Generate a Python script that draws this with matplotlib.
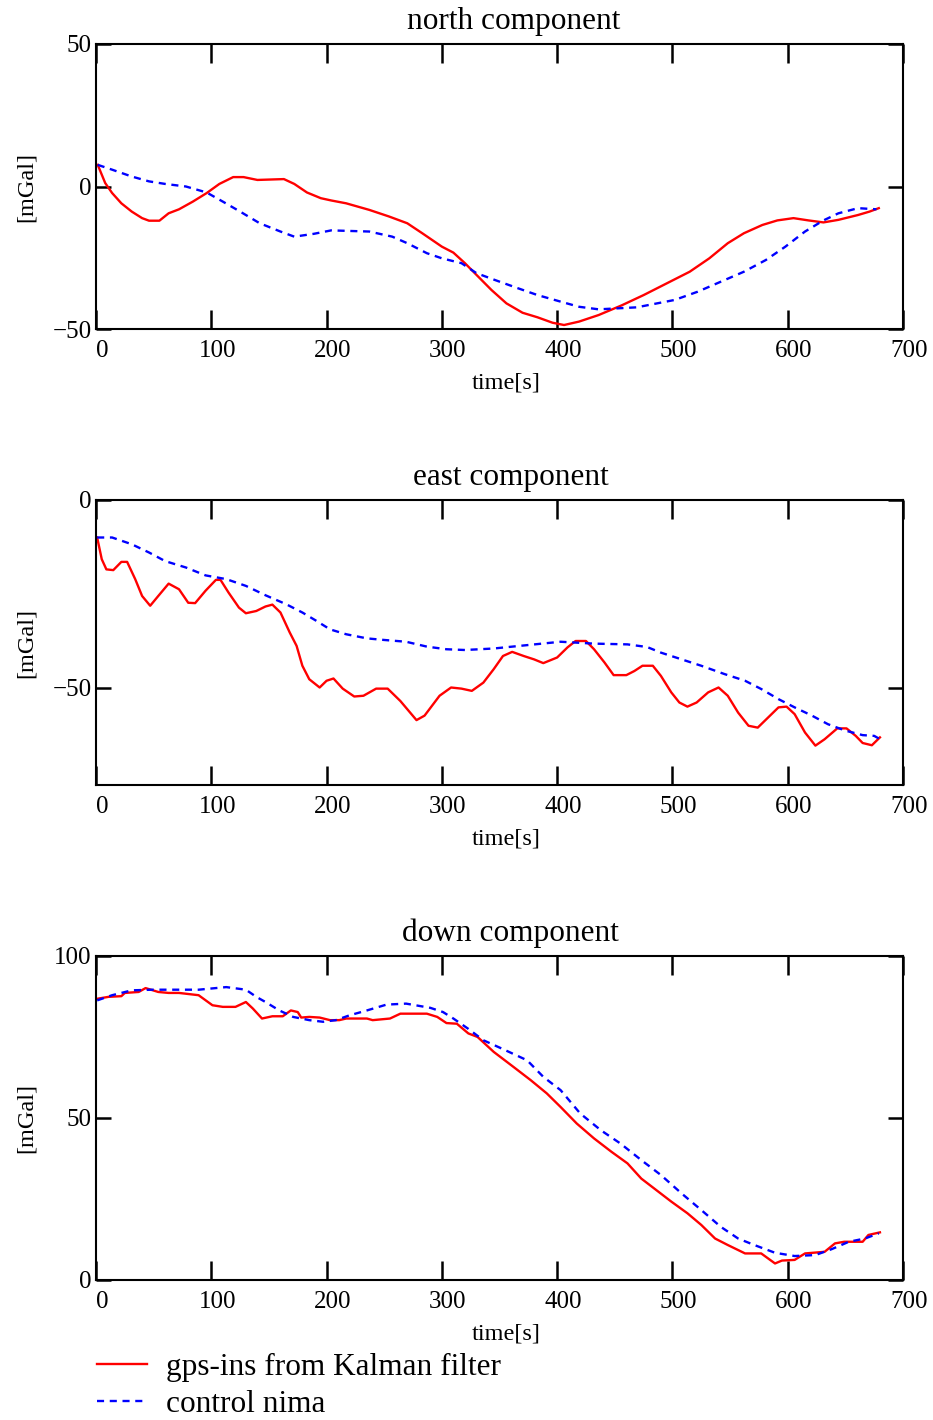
import matplotlib
matplotlib.use('Agg')
from matplotlib import pyplot as plt
from matplotlib.transforms import ScaledTranslation

plt.rcParams['font.family'] = ['Liberation Serif', 'DejaVu Serif']

# =============================================================================
# Data (time in s, gravity in mGal)
# =============================================================================
north_kf_t = [1.5, 8, 14, 22, 31, 40, 46, 55, 63, 72, 84, 96, 107, 119, 128, 140, 163,
              172, 183, 195, 204, 217, 237, 254, 270, 283, 300, 310, 320, 330, 343, 356,
              370, 383, 396, 406, 419, 436, 456, 475, 495, 515, 532, 548, 562, 578, 591,
              605, 618, 631, 644, 661, 671, 679]
north_kf_v = [7.6, 1.2, -2.3, -5.9, -8.8, -11.1, -12, -12, -9.4, -8, -5.3, -2.3, 0.9, 3.3,
              3.3, 2.3, 2.6, 0.9, -2.1, -4.1, -4.9, -5.9, -8.2, -10.5, -12.9, -16.4, -21.1,
              -23.2, -26.9, -31, -36.3, -41, -44.3, -45.9, -47.8, -48.6, -47.4, -45.1, -41.7,
              -38.1, -34, -29.9, -25.2, -19.9, -16.4, -13.5, -11.9, -11.1, -11.9, -12.6,
              -11.7, -10, -8.8, -7.6]
north_ct_t = [1.5, 14, 31, 46, 60, 78, 96, 110, 125, 142, 160, 172, 189, 204, 237, 257,
              270, 287, 300, 317, 330, 346, 366, 383, 403, 419, 436, 469, 502, 522, 542,
              562, 581, 598, 615, 631, 644, 661, 677]
north_ct_v = [7.6, 5.9, 3.5, 1.8, 0.9, 0, -2.1, -5.3, -8.8, -12.9, -15.8, -17.6, -16.6,
              -15.4, -15.8, -17.6, -19.9, -23.4, -25.2, -26.9, -30.4, -32.8, -35.7, -38.1,
              -40.4, -42.2, -43.1, -42.4, -39.8, -36.9, -33.4, -29.9, -25.8, -21.1, -15.8,
              -11.9, -9.4, -7.6, -8]

east_kf_t = [1, 5, 9, 15, 22, 27, 34, 40, 47, 54, 63, 72, 80, 86, 95, 104, 108, 115, 124,
             130, 139, 147, 153, 160, 168, 174, 179, 185, 194, 200, 206, 214, 224, 232,
             243, 253, 264, 278, 285, 298, 308, 317, 326, 336, 345, 353, 361, 371, 380,
             388, 400, 409, 416, 425, 432, 441, 449, 460, 467, 474, 483, 490, 499, 506,
             513, 521, 531, 540, 548, 557, 566, 574, 583, 592, 599, 606, 615, 624, 632,
             643, 651, 659, 665, 673, 680]
east_kf_v = [-10, -15.8, -18.5, -18.7, -16.5, -16.5, -21.1, -25.6, -28.2, -25.6, -22.3,
             -23.8, -27.4, -27.5, -24.2, -21.3, -21.3, -24.7, -28.7, -30.2, -29.6, -28.4,
             -27.9, -30, -35.3, -38.9, -44.2, -47.8, -50, -48.2, -47.6, -50.3, -52.4,
             -52.2, -50.3, -50.3, -53.6, -58.7, -57.5, -52.2, -50, -50.3, -50.9, -48.7,
             -45.1, -41.6, -40.5, -41.6, -42.5, -43.5, -42, -39.3, -37.6, -37.6, -39.8,
             -43.3, -46.7, -46.7, -45.6, -44.2, -44.2, -46.9, -51.3, -54, -55.1, -54,
             -51.3, -50, -52.2, -56.7, -60.2, -60.7, -58, -55.3, -55.1, -57.1, -62, -65.5,
             -63.8, -60.9, -60.9, -62.9, -64.8, -65.4, -63.3]
east_ct_t = [1, 14, 31, 46, 60, 78, 95, 113, 130, 147, 165, 179, 191, 203, 217, 235, 249,
             269, 287, 304, 320, 345, 374, 403, 432, 461, 478, 490, 508, 525, 545, 563,
             577, 592, 606, 621, 635, 650, 665, 675, 679]
east_ct_v = [-10, -10, -11.8, -14, -16.3, -18, -20.1, -21.1, -22.9, -25.4, -27.8, -30,
             -32.2, -34.5, -35.8, -36.9, -37.3, -37.8, -39.1, -39.8, -40, -39.6, -38.7,
             -37.8, -38.3, -38.5, -39.2, -40.7, -42.5, -44.2, -46.4, -48.2, -50.4, -53.1,
             -55.3, -57.5, -59.8, -61.5, -62.7, -62.9, -63.6]

down_kf_t = [1, 11, 22, 25, 37, 43, 54, 63, 72, 89, 101, 110, 121, 130, 136, 144, 153,
             162, 169, 175, 178, 185, 194, 203, 211, 217, 235, 240, 255, 264, 287, 296,
             304, 313, 323, 331, 345, 362, 377, 391, 403, 417, 432, 447, 461, 473, 484,
             499, 513, 525, 537, 548, 563, 577, 589, 595, 606, 615, 632, 641, 649, 665,
             670, 680]
down_kf_v = [86.8, 87.4, 87.6, 88.6, 88.9, 90.1, 88.9, 88.6, 88.6, 87.9, 84.8, 84.3, 84.3,
             85.8, 83.8, 80.7, 81.4, 81.4, 83.2, 82.7, 81, 81.2, 81, 80.2, 80.2, 80.7,
             80.7, 80.2, 80.7, 82.2, 82.2, 81.2, 79.3, 79.1, 76.1, 75, 70.4, 65.8, 61.7,
             57.6, 53.4, 48.3, 43.7, 39.6, 36, 31.3, 28.3, 24.2, 20.6, 17, 12.8, 10.8,
             8.2, 8.2, 5.1, 6, 6.2, 8.2, 8.7, 11.3, 11.8, 11.8, 13.9, 14.7]
down_ct_t = [1, 14, 31, 49, 72, 89, 113, 130, 139, 147, 159, 171, 185, 197, 208, 220, 235,
             252, 269, 290, 301, 310, 323, 336, 354, 374, 388, 403, 420, 438, 455, 473,
             490, 508, 525, 542, 557, 571, 589, 606, 624, 638, 653, 667, 679]
down_ct_v = [86.3, 87.9, 89.4, 89.6, 89.6, 89.6, 90.4, 89.6, 87.4, 85.8, 83.2, 81.2, 80.2,
             79.7, 80.2, 81.7, 83.2, 85, 85.3, 84, 82.7, 80.7, 77.5, 74, 71.1, 67.8, 62.7,
             58.6, 51.4, 46.2, 42.1, 37, 32.4, 26.7, 21.6, 16.4, 12.8, 10.8, 8.4, 7.4,
             7.7, 9.5, 11.8, 12.8, 14.4]

titles = ['north component', 'east component', 'down component']
ylims = [(-50, 50), (-76, 0), (0, 100)]
yticks = [[-50, 0, 50], [-50, 0], [0, 50, 100]]
xticks = [0, 100, 200, 300, 400, 500, 600, 700]

# =============================================================================
# Plot
# =============================================================================
W, H = 933, 1420
fig = plt.figure(figsize=(W / 100, H / 100), dpi=100)

# axes boxes in pixels: (top, bottom)
boxes = [(44, 329), (500, 785), (956, 1280)]
title_x = [0.518, 0.514, 0.514]
series = [(north_kf_t, north_kf_v, north_ct_t, north_ct_v),
          (east_kf_t, east_kf_v, east_ct_t, east_ct_v),
          (down_kf_t, down_kf_v, down_ct_t, down_ct_v)]

for i in range(3):
    top, bot = boxes[i]
    h = bot - top
    ax = fig.add_axes([96 / W, 1 - bot / H, (903 - 96) / W, h / H])
    kt, kv, ct, cv = series[i]
    l1, = ax.plot(kt, kv, color='#ff0000', lw=1.7, label='gps-ins from Kalman filter')
    l2, = ax.plot(ct, cv, color='#0000ff', lw=1.7, linestyle=(0, (3.0, 2.4)),
                  label='control nima')
    ax.set_xlim(0, 700)
    ax.set_ylim(*ylims[i])
    ax.set_xticks(xticks)
    ax.set_yticks(yticks[i])
    ax.tick_params(axis='x', direction='in', top=True, length=14, width=1.8,
                   labelsize=18, pad=8)
    ax.tick_params(axis='y', direction='in', right=True, length=11, width=1.8,
                   labelsize=18, pad=3)
    for sp in ax.spines.values():
        sp.set_linewidth(1.5)
    for lab in ax.get_xticklabels():
        lab.set_transform(lab.get_transform() + ScaledTranslation(0.06, 0, fig.dpi_scale_trans))
    ax.set_ylabel('[mGal]', fontsize=17.5)
    ax.yaxis.set_label_coords(-0.073, 0.5)
    ax.text(title_x[i], 1 + 23 / h, titles[i], transform=ax.transAxes,
            ha='center', va='center', fontsize=22.5)
    ax.text(0.508, -54 / h, 'time[s]', transform=ax.transAxes,
            ha='center', va='center', fontsize=17.5)

fig.legend([l1, l2], [l1.get_label(), l2.get_label()], loc='upper left',
           bbox_to_anchor=(97 / W, 1 - 1353 / H), frameon=False, fontsize=22.5,
           borderaxespad=0, borderpad=0, handlelength=1.6, handletextpad=0.6,
           labelspacing=0.25)

plt.savefig('out.png', dpi=100)
